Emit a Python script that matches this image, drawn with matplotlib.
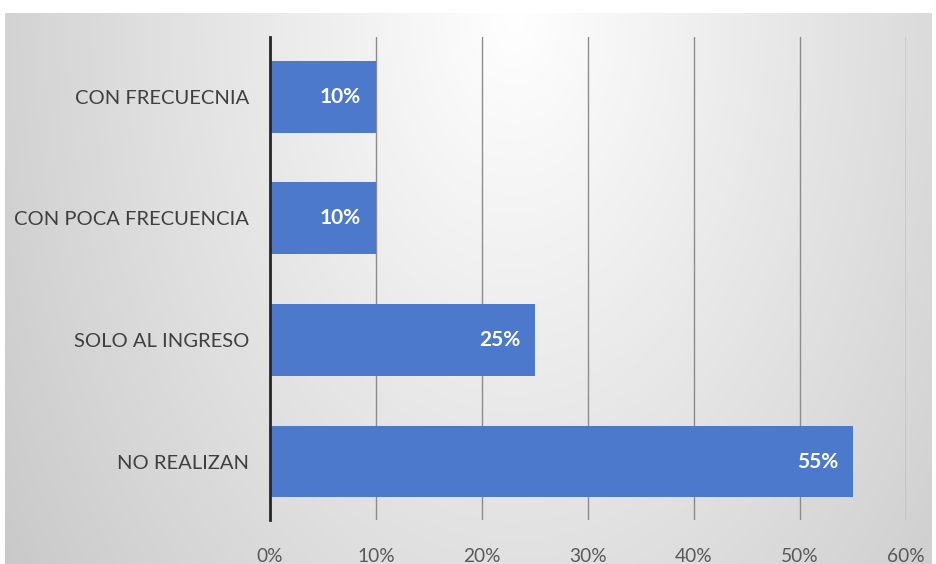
import numpy as np
import matplotlib.pyplot as plt
from matplotlib.ticker import PercentFormatter

categories = ["NO REALIZAN", "SOLO AL INGRESO", "CON POCA FRECUENCIA", "CON FRECUECNIA"]
values = [55, 25, 10, 10]
xticks = [0, 10, 20, 30, 40, 50, 60]

plt.rcParams["font.family"] = ["Lato", "DejaVu Sans"]

fig = plt.figure(figsize=(9.36, 5.64), dpi=100)

# gradient background behind the chart
bg = fig.add_axes([0.005, 0, 0.99, 551 / 564])
bg.set_axis_off()
yy, xx = np.mgrid[0:1:300j, 0:1:500j]
r = np.sqrt(((xx - 0.55) / 0.6) ** 2 + (yy / 1.6) ** 2)
g = np.clip(1 - 0.19 * r, 0, 1)
bg.imshow(np.dstack([g, g, g]), aspect="auto", extent=[0, 1, 0, 1], origin="upper")
bg.set_xlim(0, 1)
bg.set_ylim(0, 1)

ax = fig.add_axes([270 / 936, (564 - 520) / 564, (906 - 270) / 936, (520 - 37) / 564])
ax.patch.set_alpha(0)
y = np.arange(len(categories))
bars = ax.barh(y, values, height=0.59, color="#4d79cc", zorder=3)
for b, v in zip(bars, values):
    ax.text(v - 1.4, b.get_y() + b.get_height() / 2, f"{v}%", ha="right", va="center",
            color="white", fontweight="bold", fontsize=15, zorder=4)

ax.set_xlim(0, 60)
ax.set_ylim(-0.48, 3.49)
ax.set_xticks(xticks)
ax.xaxis.set_major_formatter(PercentFormatter(decimals=0))
ax.set_yticks(y)
ax.set_yticklabels(categories)
ax.tick_params(axis="y", length=0, pad=15, labelsize=14.5, labelcolor="#404040")
ax.tick_params(axis="x", length=0, pad=20, labelsize=13.8, labelcolor="#595959")
ax.grid(axis="x", color="#8c8c8c", linewidth=1, zorder=1)
for s in ["top", "right", "bottom"]:
    ax.spines[s].set_visible(False)
ax.spines["left"].set_color("#262626")
ax.spines["left"].set_linewidth(2)
ax.spines["left"].set_zorder(5)

fig.savefig("out.png", dpi=100)
